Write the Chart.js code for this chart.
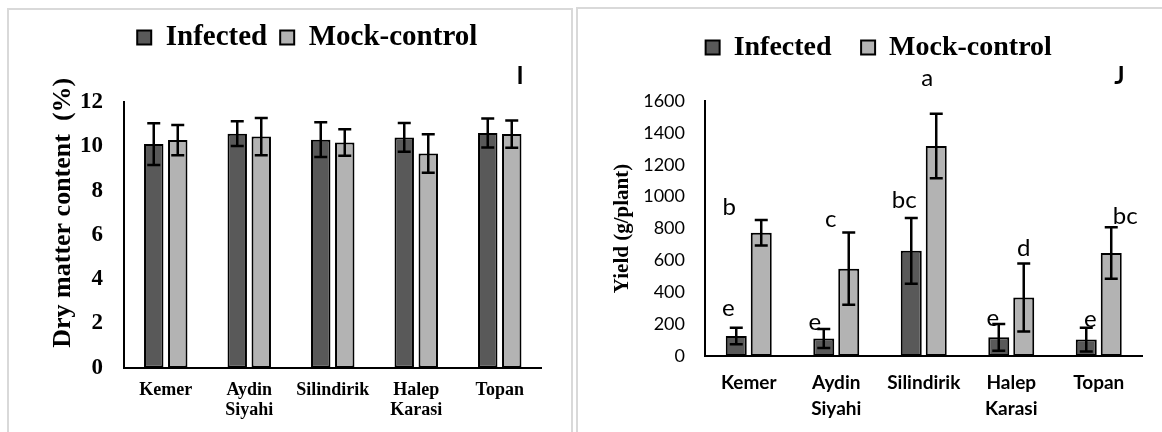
<!DOCTYPE html>
<html><head><meta charset="utf-8">
<script src="https://cdn.jsdelivr.net/npm/chart.js@4.4.1/dist/chart.umd.min.js"></script>
<style>
html,body{margin:0;padding:0;background:#fff;width:1162px;height:432px;overflow:hidden;position:relative;}
.panel{position:absolute;border:2px solid #d9d9d9;box-sizing:border-box;}
canvas{position:absolute;top:0;}
</style></head><body>
<div class="panel" style="left:7px;top:8px;width:566px;height:440px"></div>
<div class="panel" style="left:576px;top:7px;width:600px;height:440px"></div>
<canvas id="c1" width="578" height="432" style="left:0px"></canvas>
<canvas id="c2" width="584" height="432" style="left:578px"></canvas>
<script>
// ---------- data ----------
const categories = [['Kemer'], ['Aydin', 'Siyahi'], ['Silindirik'], ['Halep', 'Karasi'], ['Topan']];
const seriesNames = ['Infected', 'Mock-control'];

const dryInfected    = [10.10, 10.57, 10.30, 10.40, 10.60];
const dryInfectedErr = [0.94, 0.56, 0.78, 0.65, 0.66];
const dryMock        = [10.28, 10.44, 10.17, 9.67, 10.55];
const dryMockErr     = [0.68, 0.84, 0.60, 0.87, 0.62];
const dryTicks = {min: 0, max: 12, step: 2};

const yieldInfected    = [125, 110, 660, 117, 103];
const yieldInfectedErr = [52, 60, 206, 84, 75];
const yieldMock        = [774, 548, 1318, 367, 646];
const yieldMockErr     = [80, 227, 202, 214, 162];
const yieldTicks = {min: 0, max: 1600, step: 200};

const lettersInfected = ['e', 'e', 'bc', 'e', 'e'];
const lettersMock     = ['b', 'c', 'a', 'd', 'bc'];

// ---------- layout / style (not data) ----------
const letterOffsetsInfected = [[-8, -12], [-9, 1], [-7, -10], [-6, 2], [4, -1]];
const letterOffsetsMock     = [[-32, -5], [-18, -5], [-9, -28], [0, -7], [14, -3]];
const DARK = '#595959', LIGHT = '#b3b3b3';
const SERIF = "'Liberation Serif', 'Times New Roman', serif";
const SANS = "Lato, 'Liberation Sans', sans-serif";

const errorBars = {
  id: 'errorBars',
  afterDatasetsDraw(chart, args, opts) {
    const ctx = chart.ctx, ys = chart.scales.y, cap = opts.cap;
    ctx.save();
    ctx.strokeStyle = '#000';
    ctx.lineWidth = opts.lineWidth;
    chart.data.datasets.forEach((ds, di) => {
      const meta = chart.getDatasetMeta(di);
      meta.data.forEach((bar, i) => {
        const v = ds.data[i], e = ds.errors[i];
        const yt = ys.getPixelForValue(v + e), yb = ys.getPixelForValue(v - e);
        const x = bar.x;
        ctx.beginPath();
        ctx.moveTo(x, yt); ctx.lineTo(x, yb);
        ctx.moveTo(x - cap, yt); ctx.lineTo(x + cap, yt);
        ctx.moveTo(x - cap, yb); ctx.lineTo(x + cap, yb);
        ctx.stroke();
      });
    });
    ctx.restore();
  }
};

const groupLetters = {
  id: 'groupLetters',
  afterDatasetsDraw(chart, args, opts) {
    if (!opts.show) return;
    const ctx = chart.ctx, ys = chart.scales.y;
    ctx.save();
    ctx.fillStyle = '#000';
    ctx.font = opts.font;
    ctx.textAlign = 'center';
    ctx.textBaseline = 'alphabetic';
    chart.data.datasets.forEach((ds, di) => {
      const meta = chart.getDatasetMeta(di);
      const offs = opts.offsets[di];
      meta.data.forEach((bar, i) => {
        const yTop = ys.getPixelForValue(ds.data[i] + ds.errors[i]);
        ctx.fillText(ds.letters[i], bar.x + offs[i][0], yTop + offs[i][1]);
      });
    });
    ctx.restore();
  }
};

function makeChart(id, cfg) {
  return new Chart(document.getElementById(id), {
    type: 'bar',
    data: {
      labels: categories,
      datasets: [
        {label: seriesNames[0], data: cfg.inf, errors: cfg.infErr, letters: cfg.lettersInf,
         backgroundColor: DARK, borderColor: '#000', borderWidth: 2, borderSkipped: false,
         categoryPercentage: cfg.catPct, barPercentage: cfg.barPct},
        {label: seriesNames[1], data: cfg.mock, errors: cfg.mockErr, letters: cfg.lettersMock,
         backgroundColor: LIGHT, borderColor: '#000', borderWidth: 2, borderSkipped: false,
         categoryPercentage: cfg.catPct, barPercentage: cfg.barPct}
      ]
    },
    options: {
      responsive: false,
      animation: false,
      devicePixelRatio: 1,
      layout: {padding: cfg.padding},
      plugins: {
        legend: {
          position: 'top',
          labels: {boxWidth: 14, boxHeight: 14, color: '#000', padding: cfg.legendPad,
                   font: {family: SERIF, weight: 'bold', size: cfg.legendSize}}
        },
        title: {
          display: true, text: cfg.panel + '\u2003', align: 'end', weight: 500, color: '#000',
          font: {family: SANS, weight: 'bold', size: 24, lineHeight: 1},
          padding: cfg.panelPad
        },
        tooltip: {enabled: false},
        errorBars: {cap: 6.5, lineWidth: 2.5},
        groupLetters: {show: cfg.showLetters, font: '24px ' + SANS,
                       offsets: [letterOffsetsInfected, letterOffsetsMock]}
      },
      scales: {
        x: {
          grid: {display: false, drawTicks: false},
          border: {display: true, color: '#000', width: 2},
          ticks: {color: '#000', padding: cfg.xPad, maxRotation: 0, autoSkip: false, font: cfg.xFont},
          afterFit(s) { s.height = cfg.xHeight; }
        },
        y: {
          min: cfg.ticks.min, max: cfg.ticks.max,
          grid: {display: false, drawTicks: false},
          border: {display: true, color: '#000', width: 2},
          ticks: {stepSize: cfg.ticks.step, color: '#000', padding: cfg.yPad, font: cfg.yFont,
                  format: {useGrouping: false}},
          title: {display: true, text: cfg.yTitle, color: '#000', font: cfg.yTitleFont, padding: cfg.yTitlePad},
          afterFit(s) { s.width = cfg.yWidth; }
        }
      }
    },
    plugins: [errorBars, groupLetters]
  });
}

makeChart('c1', {
  inf: dryInfected, infErr: dryInfectedErr, mock: dryMock, mockErr: dryMockErr,
  lettersInf: ['', '', '', '', ''], lettersMock: ['', '', '', '', ''], showLetters: false,
  ticks: dryTicks, catPct: 0.575, barPct: 0.81,
  padding: {left: 73, right: 36.5, top: 10, bottom: 0},
  legendPad: 13, legendSize: 29,
  panel: 'I', panelPad: {top: 2.5, bottom: 13.5},
  xPad: 13, xHeight: 64.3, xFont: {family: SERIF, weight: 'bold', size: 18, lineHeight: 1.1},
  yPad: 21, yWidth: 51, yFont: {family: SERIF, weight: 'bold', size: 23},
  yTitle: '\u2003\u2002\u2009Dry matter content  (%)',
  yTitleFont: {family: SERIF, weight: 'bold', size: 26, lineHeight: 1.2},
  yTitlePad: {top: -25, bottom: 0}
});

makeChart('c2', {
  inf: yieldInfected, infErr: yieldInfectedErr, mock: yieldMock, mockErr: yieldMockErr,
  lettersInf: lettersInfected, lettersMock: lettersMock, showLetters: true,
  ticks: yieldTicks, catPct: 0.571, barPct: 0.84,
  padding: {left: 37, right: 19.5, top: 4, bottom: 0},
  legendPad: 29.5, legendSize: 28,
  panel: 'J', panelPad: {top: -7, bottom: 12.5},
  xPad: 14.8, xHeight: 76, xFont: {family: SANS, weight: 'bold', size: 19, lineHeight: 1.32},
  yPad: 20, yWidth: 90, yFont: {family: SANS, size: 18},
  yTitle: 'Yield (g/plant)',
  yTitleFont: {family: SERIF, weight: 'bold', size: 21, lineHeight: 1.2},
  yTitlePad: {top: -4.7, bottom: 0}
});
</script>
</body></html>
